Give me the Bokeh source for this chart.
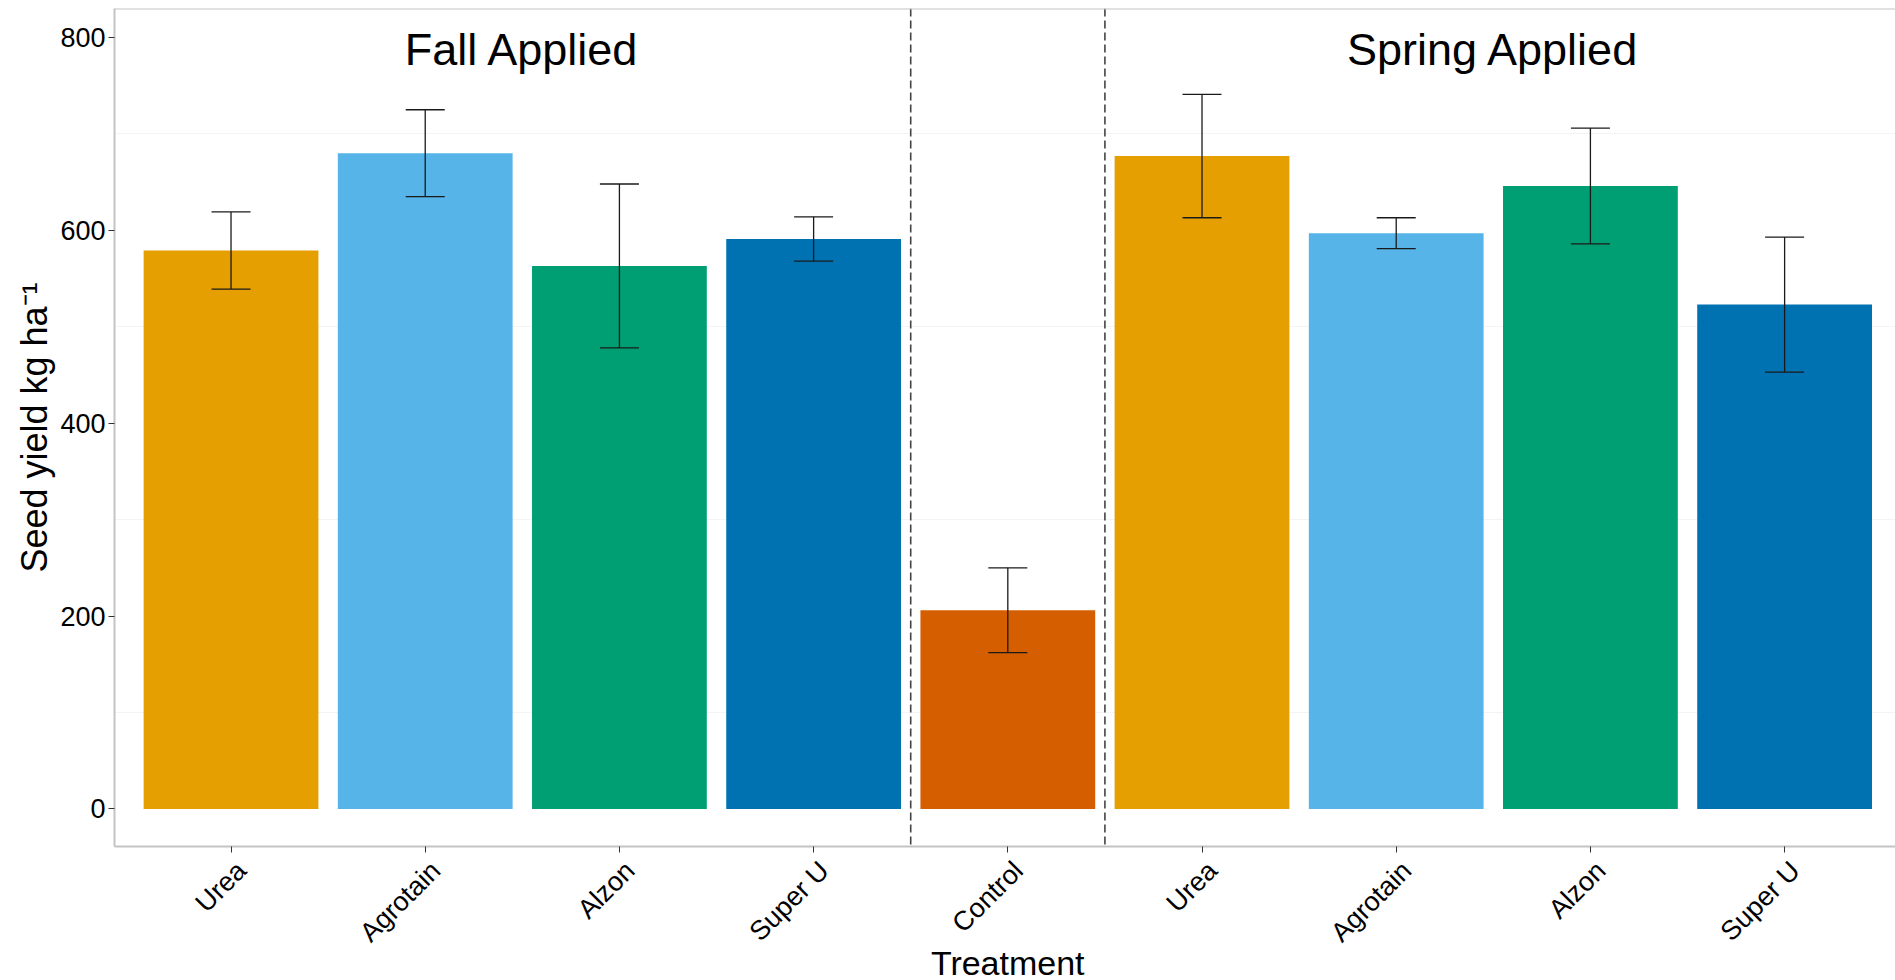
import math
from bokeh.plotting import figure
from bokeh.layouts import column
from bokeh.models import Range1d, FixedTicker, Span, Whisker, TeeHead, ColumnDataSource, LabelSet
from bokeh.core.properties import value
from bokeh.embed import file_html
from bokeh.resources import INLINE

# ---- data ----
treatments = ["Urea", "Agrotain", "Alzon", "Super U", "Control", "Urea", "Agrotain", "Alzon", "Super U"]
seed_yield = [579, 680, 563, 591, 206, 677, 597, 646, 523]
std_err = [40, 45, 85, 23, 44, 64, 16, 60, 70]
bar_colors = ["#E69F00", "#56B4E9", "#009E73", "#0072B2", "#D55E00",
              "#E69F00", "#56B4E9", "#009E73", "#0072B2"]
group_labels = ["Fall Applied", "Spring Applied"]
group_label_x = [2.5, 7.5]
group_label_y = [790, 790]
divider_x = [4.5, 5.5]
y_ticks = [0, 200, 400, 600, 800]
y_minor = [100, 300, 500, 700]
x_title = "Treatment"
y_title = "Seed yield kg ha\u207b\u00b9"

FONT = "Liberation Sans"
Y0, Y1 = -39, 830

xs = list(range(1, len(treatments) + 1))
src = ColumnDataSource(dict(
    x=xs,
    top=seed_yield,
    upper=[v + e for v, e in zip(seed_yield, std_err)],
    lower=[v - e for v, e in zip(seed_yield, std_err)],
    color=bar_colors,
))

x_range = Range1d(0.4, 9.571)

p = figure(width=1895, height=854,
           x_range=x_range, y_range=Range1d(Y0, Y1),
           min_border_left=114, min_border_right=0, min_border_top=8, min_border_bottom=8,
           output_backend="svg", toolbar_location=None)
p.background_fill_color = "white"
p.border_fill_color = "white"
p.outline_line_color = None

p.vbar(x="x", top="top", bottom=0, width=0.9, fill_color="color", line_color=None, source=src)

whisk = Whisker(base="x", upper="upper", lower="lower", source=src, level="overlay",
                line_color="#1a1a1a", line_width=1.3,
                upper_head=TeeHead(size=39, line_color="#1a1a1a", line_width=1.3),
                lower_head=TeeHead(size=39, line_color="#1a1a1a", line_width=1.3))
p.add_layout(whisk)

for dx in divider_x:
    p.add_layout(Span(location=dx, dimension="height", line_color="#444444",
                      line_width=1.6, line_dash="8 4"))

# top border
p.add_layout(Span(location=Y1, dimension="width", line_color="#C4C4C4", line_width=2))

lab_src = ColumnDataSource(dict(x=group_label_x, y=group_label_y, t=group_labels))
p.add_layout(LabelSet(x="x", y="y", text="t", source=lab_src, y_offset=-2,
                      text_font=value(FONT), text_font_size="45px",
                      text_align="center", text_baseline="middle", text_color="black"))

# grids
p.xgrid.grid_line_color = None
p.ygrid.grid_line_color = None
p.ygrid.minor_grid_line_color = "#F4F4F4"
p.ygrid.minor_grid_line_width = 1

# y axis
p.yaxis.ticker = FixedTicker(ticks=y_ticks, minor_ticks=y_minor)
p.yaxis.minor_tick_line_color = None
p.yaxis.axis_line_color = "#C4C4C4"
p.yaxis.axis_line_width = 2
p.yaxis.major_tick_line_color = "#333333"
p.yaxis.major_tick_out = 6
p.yaxis.major_tick_in = 0
p.yaxis.major_label_standoff = 3
p.yaxis.major_label_text_font = FONT
p.yaxis.major_label_text_font_size = "27px"
p.yaxis.major_label_text_color = "black"
p.yaxis.axis_label = y_title
p.yaxis.axis_label_text_font = FONT
p.yaxis.axis_label_text_font_size = "36px"
p.yaxis.axis_label_text_font_style = "normal"
p.yaxis.axis_label_text_color = "black"
p.yaxis.axis_label_standoff = 2

# x axis (ticks only; labels drawn in the strip below)
p.xaxis.ticker = FixedTicker(ticks=xs)
p.xaxis.major_label_overrides = {x: "" for x in xs}
p.xaxis.major_label_text_font_size = "0px"
p.xaxis.major_label_standoff = 0
p.xaxis.minor_tick_line_color = None
p.xaxis.axis_line_color = "#C4C4C4"
p.xaxis.axis_line_width = 2
p.xaxis.major_tick_line_color = "#333333"
p.xaxis.major_tick_out = 6
p.xaxis.major_tick_in = 0

# ---- strip below the panel: rotated category labels + axis title ----
# y in this strip = pixels below the panel's bottom edge (negative)
strip = figure(width=1895, height=126, x_range=x_range, y_range=Range1d(-134, -8),
               min_border_left=114, min_border_right=0, min_border_top=0, min_border_bottom=0,
               x_axis_location=None, y_axis_location=None,
               output_backend="svg", toolbar_location=None)
strip.outline_line_color = None
strip.background_fill_color = "white"
strip.border_fill_color = "white"
strip.xgrid.grid_line_color = None
strip.ygrid.grid_line_color = None

tick_src = ColumnDataSource(dict(x=xs, y=[-9] * len(xs), name=treatments))
strip.text(x="x", y="y", text="name", source=tick_src, angle=math.pi / 4,
           text_font=value(FONT), text_font_size=value("27px"),
           text_align="right", text_baseline="top", text_color="black")

title_src = ColumnDataSource(dict(x=[(x_range.start + x_range.end) / 2 + 0.014], y=[-116], t=[x_title]))
strip.text(x="x", y="y", text="t", source=title_src,
           text_font=value(FONT), text_font_size=value("34px"),
           text_align="center", text_baseline="middle", text_color="black")

layout = column(p, strip, spacing=0)
open("out.html", "w").write(file_html(layout, INLINE))
